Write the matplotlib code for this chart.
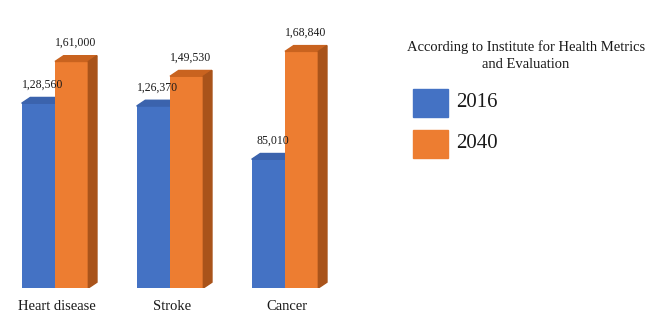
import matplotlib
matplotlib.use('Agg')
import matplotlib.pyplot as plt
from matplotlib.patches import Polygon, Rectangle

# Deaths, according to Institute for Health Metrics and Evaluation
categories = ['Heart disease', 'Stroke', 'Cancer']
deaths_2016 = [128560, 126370, 85010]
deaths_2040 = [161000, 149530, 168840]
series_names = ['2016', '2040']

plt.rcParams['font.family'] = ['Liberation Serif', 'DejaVu Serif']

BLUE = '#4472c4'
BLUE_TOP = '#3b63ad'
ORANGE = '#ed7d31'
ORANGE_TOP = '#c9631f'
ORANGE_SIDE = '#a9531a'


def indian_fmt(v):
    s = str(int(v))
    if len(s) <= 3:
        return s
    head, tail = s[:-3], s[-3:]
    parts = []
    while len(head) > 2:
        parts.insert(0, head[-2:])
        head = head[:-2]
    if head:
        parts.insert(0, head)
    return ','.join(parts) + ',' + tail


fig = plt.figure(figsize=(6.51, 3.15), dpi=100)
ax = fig.add_axes([0, 27 / 315, 340 / 651, 288 / 315])

base = -15000
w = 0.29
x = list(range(len(categories)))
dx, dy = 0.075, 4500  # fake 3d depth

b1 = ax.bar([i - w / 2 for i in x], [v - base for v in deaths_2016], w,
            bottom=base, color=BLUE, zorder=2)
b2 = ax.bar([i + w / 2 for i in x], [v - base for v in deaths_2040], w,
            bottom=base, color=ORANGE, zorder=3)


def add_depth(bars, top_col, side_col, z):
    for r in bars:
        x0, w0 = r.get_x(), r.get_width()
        top = r.get_y() + r.get_height()
        ax.add_patch(Polygon([(x0, top), (x0 + dx, top + dy), (x0 + w0 + dx, top + dy),
                              (x0 + w0, top)], closed=True, color=top_col, zorder=z))
        if side_col:
            ax.add_patch(Polygon([(x0 + w0, base), (x0 + w0 + dx, base + dy),
                                  (x0 + w0 + dx, top + dy), (x0 + w0, top)],
                                 closed=True, color=side_col, zorder=z))
        # little floor shadow
        ax.plot([x0 - 0.02, x0 + w0 + dx], [base - 800, base - 800], color='#6b4a30',
                lw=1.2, alpha=0.5, zorder=1, solid_capstyle='round')


add_depth(b1, BLUE_TOP, None, 2)
add_depth(b2, ORANGE_TOP, ORANGE_SIDE, 3)

for bars, vals in ((b1, deaths_2016), (b2, deaths_2040)):
    for r, v in zip(bars, vals):
        ax.annotate(indian_fmt(v), (r.get_x() + r.get_width() / 2 + dx / 2, v),
                    xytext=(0, 9), textcoords='offset points', ha='center',
                    va='bottom', fontsize=8.5, color='#1a1a1a')

ax.set_xlim(-55 / 115, -55 / 115 + 340 / 115)
ax.set_ylim(base, base + 288 / 1.287 * 1000)
ax.axis('off')

for i, c in enumerate(categories):
    fig.text((57 + 115 * i) / 651, 1 - 307 / 315, c, ha='center', va='center',
             fontsize=10.5, color='#1a1a1a')

# legend
fig.text(526 / 651, 1 - 56 / 315,
         'According to Institute for Health Metrics\nand Evaluation',
         ha='center', va='center', fontsize=10.5, color='#1a1a1a', linespacing=1.4)
for k, (name, col) in enumerate(zip(series_names, [BLUE, ORANGE])):
    y0 = 89 + 41 * k
    fig.add_artist(Rectangle((413 / 651, 1 - (y0 + 28) / 315), 35 / 651, 28 / 315,
                             transform=fig.transFigure, color=col))
    fig.text(456 / 651, 1 - (y0 + 14) / 315, name, ha='left', va='center',
             fontsize=15, color='#1a1a1a')

fig.savefig('out.png', dpi=100)
